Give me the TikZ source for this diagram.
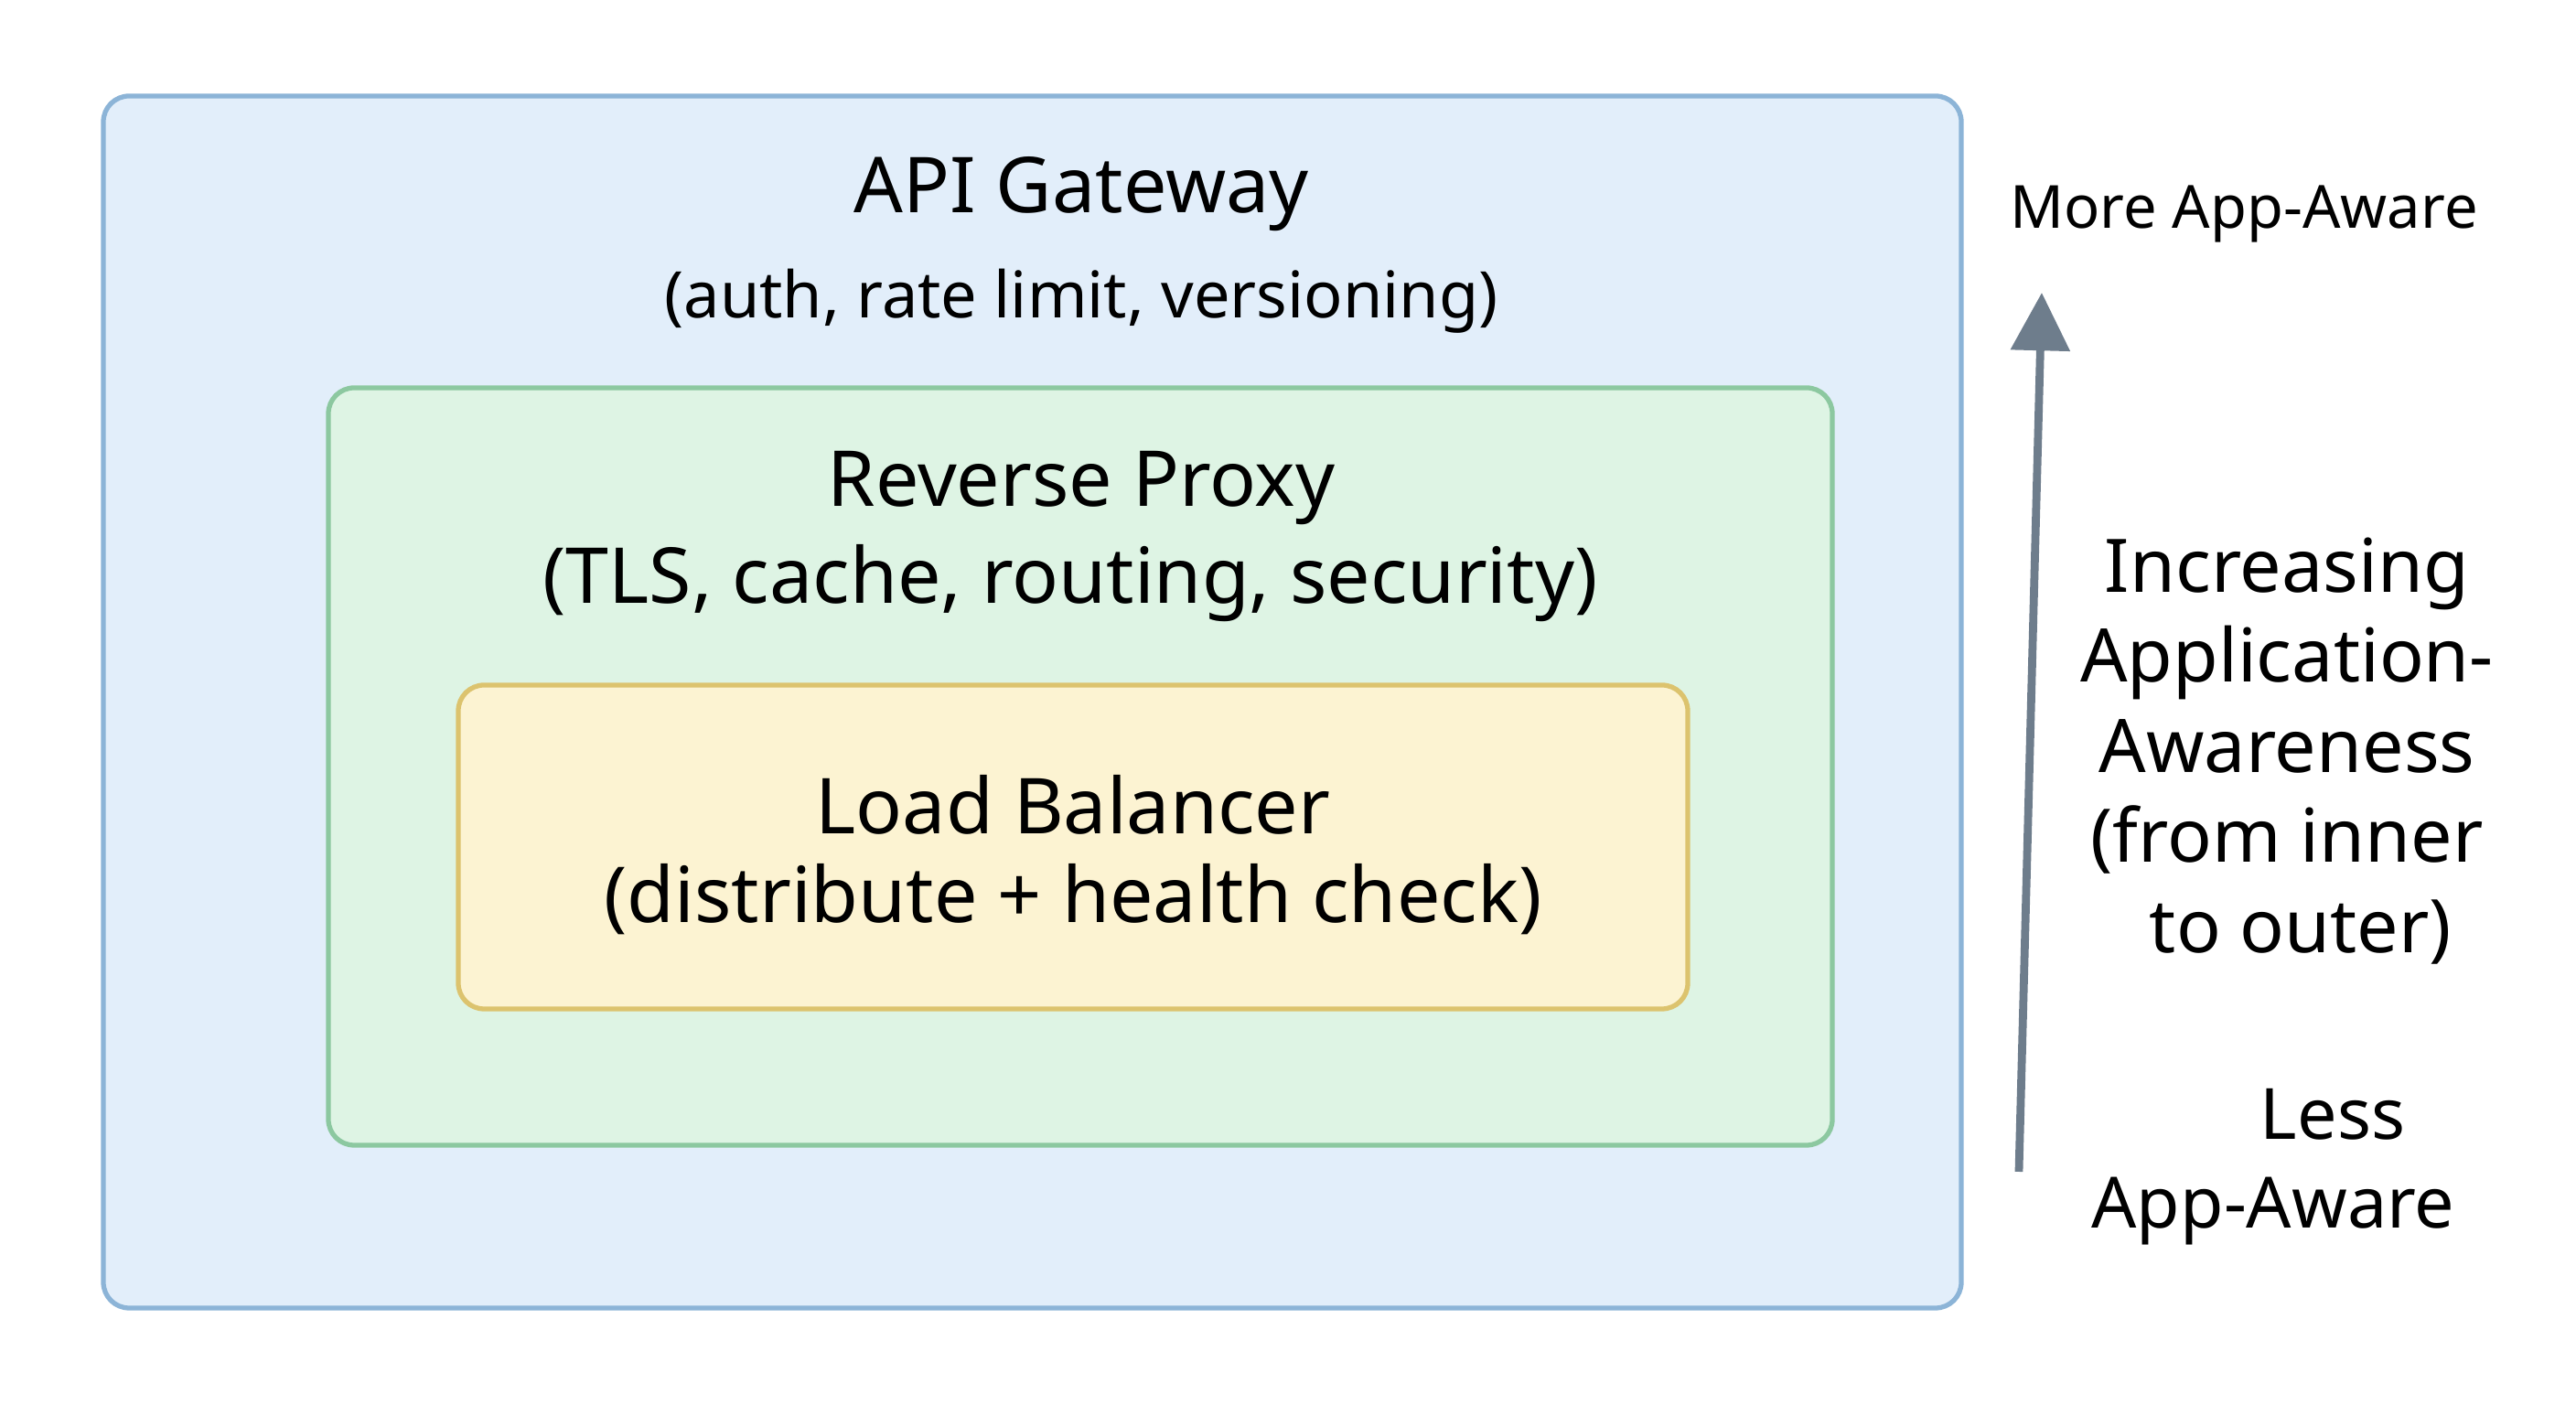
\documentclass[tikz,border=0pt]{standalone}
\usepackage{fontspec}
\setmainfont{Noto Sans}
\definecolor{gatewayfill}{RGB}{226, 238, 250}
\definecolor{gatewayline}{RGB}{140, 180, 215}
\definecolor{proxyfill}{RGB}{222, 244, 228}
\definecolor{proxyline}{RGB}{140, 200, 160}
\definecolor{lbfill}{RGB}{252, 243, 210}
\definecolor{lbline}{RGB}{220, 195, 110}
\definecolor{arrowgrey}{RGB}{110, 125, 140}
\usetikzlibrary{arrows.meta,positioning,calc}

\begin{document}
\begin{tikzpicture}[
    layer/.style={rectangle, draw, line width=1.5pt, rounded corners=8pt},
    title/.style={font=\fontsize{24}{29}\selectfont},
    side/.style={font=\fontsize{23}{28}\selectfont, align=center}
]
    \useasboundingbox (0,0) rectangle (28.16,15.36);

    % Layers
    \draw[layer, fill=gatewayfill, draw=gatewayline] (1.13,1.06) rectangle (21.44,14.31);
    \draw[layer, fill=proxyfill, draw=proxyline] (3.59,2.84) rectangle (20.03,11.12);
    \draw[layer, fill=lbfill, draw=lbline] (5.01,4.33) rectangle (18.45,7.87);

    % Labels
    \node[title] (gateway) at (11.82,13.24) {API Gateway};
    \node[font=\fontsize{20}{24}\selectfont] (gateway_sub) at (11.82,12.07) {(auth, rate limit, versioning)};
    \node[title] (proxy) at (11.82,10.02) {Reverse Proxy};
    \node[title] (proxy_sub) at (11.7,8.98) {(TLS, cache, routing, security)};
    \node[title] (lb) at (11.73,6.56) {Load Balancer};
    \node[title] (lb_sub) at (11.73,5.53) {(distribute + health check)};

    % Awareness scale
    \coordinate (low) at (22.07,2.55);
    \coordinate (high) at (22.32,12.16);
    \draw[-{Triangle[length=18pt,width=18pt]}, line width=2.5pt, color=arrowgrey] (low) -- (high);
    \node[font=\fontsize{18.5}{22}\selectfont] (more) at (24.53,13.02) {More App-Aware};
    \node[side] (increasing) at (25.0,7.15) {Increasing\\Application-\\Awareness\\(from inner\\\hspace*{0.3cm}to outer)};
    \node[side, font=\fontsize{22}{27.5}\selectfont] (less) at (24.85,2.6) {\hspace*{1.3cm}Less\\App-Aware};
\end{tikzpicture}
\end{document}
